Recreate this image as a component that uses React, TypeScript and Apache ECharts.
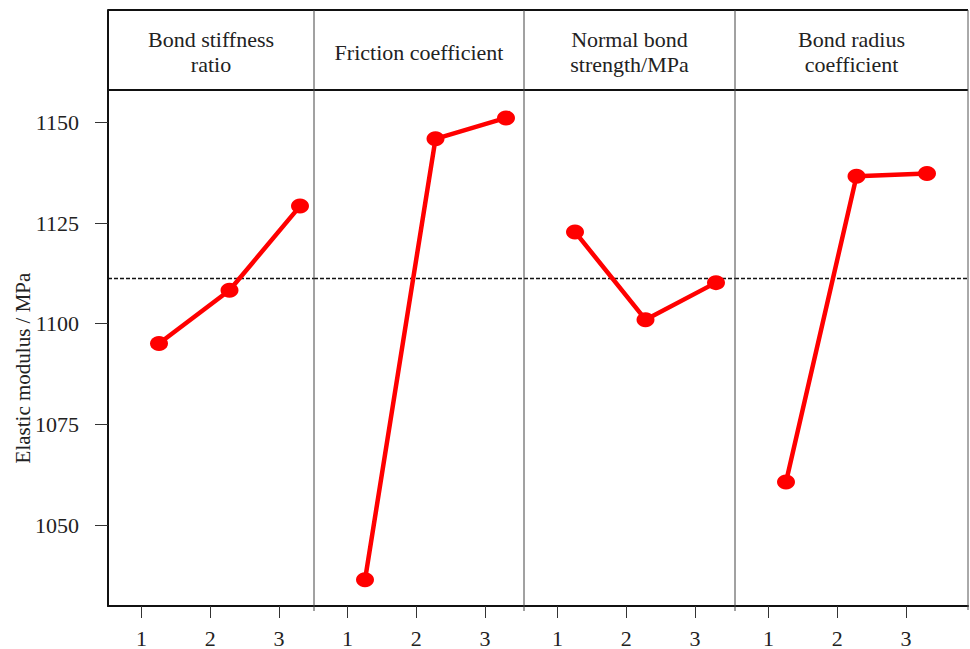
import React, { useEffect, useRef } from "react";
import * as echarts from "echarts";

// ---- data ----
const levels = [1, 2, 3];
const factorNames = [
  "Bond stiffness\nratio",
  "Friction coefficient",
  "Normal bond\nstrength/MPa",
  "Bond radius\ncoefficient",
];
const bondStiffnessRatio = [1095.1, 1108.3, 1129.2];
const frictionCoefficient = [1036.4, 1145.9, 1151.1];
const normalBondStrength = [1122.8, 1101.0, 1110.2];
const bondRadiusCoefficient = [1060.7, 1136.6, 1137.3];
const meanValue = 1111.4;
const yTickValues = [1050, 1075, 1100, 1125, 1150];
const yAxisTitle = "Elastic modulus / MPa";

const seriesValues = [
  bondStiffnessRatio,
  frictionCoefficient,
  normalBondStrength,
  bondRadiusCoefficient,
];

// ---- layout ----
const panelLefts = [108, 314, 524, 735];
const panelRight = 968;
const plotTop = 10;
const plotBottom = 608;
const headerBottom = 90;
const yMin = 1029.9;
const yMax = 1177.9;
const font = "'Liberation Serif', 'Times New Roman', Times, serif";

export default function App() {
  const ref = useRef<HTMLDivElement>(null);

  useEffect(() => {
    if (!ref.current) return;
    const chart = echarts.init(ref.current, null, { renderer: "svg" });

    const panels = panelLefts.map((l, i) => {
      const r = i < panelLefts.length - 1 ? panelLefts[i + 1] : panelRight;
      return { left: l, width: r - l };
    });

    const grids: any[] = [];
    const xAxes: any[] = [];
    const yAxes: any[] = [];
    const series: any[] = [];

    panels.forEach((p, i) => {
      grids.push({
        left: p.left,
        top: plotTop,
        width: p.width,
        height: plotBottom - plotTop,
        show: false,
      });
      const vMin = 1 - 33.5 / 68.75;
      xAxes.push({
        gridIndex: i,
        type: "value",
        position: "bottom",
        min: vMin,
        max: vMin + p.width / 68.75,
        axisLine: { show: true, onZero: false, lineStyle: { color: "#111", width: 2 } },
        axisTick: {
          show: true,
          customValues: levels,
          length: 12,
          inside: false,
          lineStyle: { color: "#333", width: 1 },
        },
        axisLabel: {
          customValues: levels,
          formatter: (v: number) => String(v),
          margin: 21,
          fontSize: 22,
          fontFamily: font,
          color: "#222",
        },
        splitLine: { show: false },
      });
      const hMin = 1 - 51 / 70.5;
      xAxes.push({
        gridIndex: i,
        type: "value",
        show: false,
        min: hMin,
        max: hMin + p.width / 70.5,
        splitLine: { show: false },
      });
      yAxes.push({
        gridIndex: i,
        type: "value",
        min: yMin,
        max: yMax,
        show: i === 0,
        axisLine: { show: true, lineStyle: { color: "#111", width: 2 } },
        axisTick: {
          show: true,
          customValues: yTickValues,
          length: 13,
          inside: false,
          lineStyle: { color: "#333", width: 1 },
        },
        axisLabel: {
          customValues: yTickValues,
          formatter: (v: number) => String(v),
          margin: 29,
          fontSize: 22,
          fontFamily: font,
          color: "#222",
        },
        splitLine: { show: false },
      });
      series.push({
        type: "line",
        name: factorNames[i].replace("\n", " "),
        xAxisIndex: 2 * i + 1,
        yAxisIndex: i,
        data: levels.map((l, k) => [l, seriesValues[i][k]]),
        symbol: "circle",
        symbolSize: [18, 15],
        lineStyle: { color: "#ff0000", width: 4.5 },
        itemStyle: { color: "#ff0000" },
        z: 5,
        markLine: {
          silent: true,
          symbol: "none",
          label: { show: false },
          lineStyle: { color: "#111", type: [4, 2], width: 1.4 },
          data: [{ yAxis: meanValue }],
          z: 3,
        },
      });
    });

    const graphics: any[] = [
      {
        type: "line",
        shape: { x1: panelLefts[0], y1: plotTop, x2: panelRight, y2: plotTop },
        style: { stroke: "#111", lineWidth: 2 },
        z: 10,
      },
      {
        type: "line",
        shape: { x1: panelLefts[0], y1: headerBottom, x2: panelRight, y2: headerBottom },
        style: { stroke: "#111", lineWidth: 2 },
        z: 10,
      },
      {
        type: "line",
        shape: { x1: panelRight, y1: plotTop, x2: panelRight, y2: plotBottom + 2 },
        style: { stroke: "#555", lineWidth: 1 },
        z: 10,
      },
    ];
    panelLefts.slice(1).forEach((x) => {
      graphics.push({
        type: "line",
        shape: { x1: x, y1: plotTop, x2: x, y2: plotBottom + 3 },
        style: { stroke: "#444", lineWidth: 1 },
        z: 10,
      });
    });
    panels.forEach((p, i) => {
      graphics.push({
        type: "text",
        x: p.left + p.width / 2,
        y: 52,
        style: {
          text: factorNames[i],
          fontSize: 22,
          fontFamily: font,
          fill: "#222",
          align: "center",
          verticalAlign: "middle",
          lineHeight: 25,
        },
        z: 10,
      });
    });
    graphics.push({
      type: "text",
      x: 23,
      y: 368,
      rotation: Math.PI / 2,
      style: {
        text: yAxisTitle,
        fontSize: 21,
        fontFamily: font,
        fill: "#222",
        align: "center",
        verticalAlign: "middle",
      },
      z: 10,
    });

    chart.setOption({
      animation: false,
      backgroundColor: "#ffffff",
      textStyle: { fontFamily: font },
      grid: grids,
      xAxis: xAxes,
      yAxis: yAxes,
      series,
      graphic: graphics,
    });

    return () => chart.dispose();
  }, []);

  return (
    <div
      ref={ref}
      style={{ position: "absolute", left: 0, top: 0, width: 970, height: 649 }}
    />
  );
}
